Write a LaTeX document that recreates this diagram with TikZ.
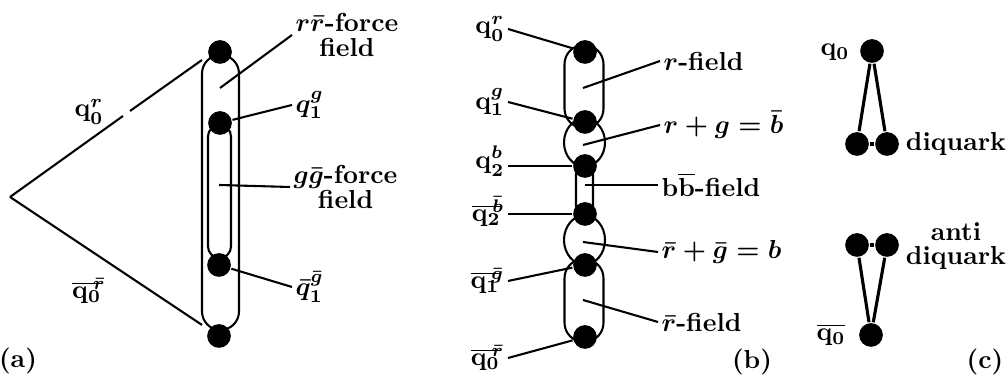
\documentclass[tikz,border=0pt]{standalone}
\newcommand{\qb}[2]{\overline{\mathbf{q}_{#1}}\mkern-5mu{}^{#2}}
\begin{document}
\begin{tikzpicture}[x=1.35cm, y=1.35cm, thick,
    dot/.style={circle, fill=black, inner sep=0pt, minimum size=3.2mm},
    lbl/.style={font=\fontsize{10}{9.5}\selectfont\bfseries\boldmath, inner sep=1pt, align=center}]
    \useasboundingbox (0,0) rectangle (10.08,3.82);
    % Panel (a)
    \begin{scope}
        % Force field tubes
        \draw[rounded corners=2.5mm] (2.02,0.52) rectangle (2.39,3.27);
        \draw[rounded corners=1.55mm] (2.08,1.24) rectangle (2.31,2.57);
        % Quarks
        \node[dot] (ta) at (2.20,3.30) {};
        \node[dot] (qa1) at (2.20,2.59) {};
        \node[dot] (qa1b) at (2.19,1.17) {};
        \node[dot] (ba) at (2.19,0.46) {};
        % Strings from the vertex
        \coordinate (apex) at (0.10,1.85);
        \coordinate (cut1) at (1.23,2.66);
        \coordinate (cut2) at (1.30,2.71);
        \coordinate (ctop) at (2.02,3.22);
        \coordinate (cbot) at (2.02,0.57);
        \draw (apex) -- (cut1);
        \draw (cut2) -- (ctop);
        \draw (apex) -- (cbot);
        % Labels
        \node[lbl] (lqa0) at (0.89,2.70) {$\mathbf{q}_0^r$};
        \node[lbl] (lqa0b) at (0.89,0.91) {$\qb{0}{\bar r}$};
        \node[lbl, anchor=west] (rrl) at (2.92,3.47) {$r\bar r$-force\\field};
        \node[lbl, anchor=west] (laq1) at (2.92,2.77) {$q_1^g$};
        \node[lbl, anchor=west] (ggl) at (2.90,1.95) {$g\bar g$-force\\field};
        \node[lbl, anchor=west] (laq1b) at (2.92,0.95) {$\bar q_1^{\bar g}$};
        \coordinate (rrf) at (2.20,2.94);
        \coordinate (ggf) at (2.19,1.97);
        \draw (rrf) -- (rrl.west);
        \draw (qa1) -- (laq1.west);
        \draw (ggf) -- (ggl.west);
        \draw (qa1b) -- (laq1b.west);
        \node[lbl] (la) at (0.18,0.21) {(a)};
    \end{scope}
    % Panel (b)
    \begin{scope}
        % Force field tubes
        \draw[rounded corners=2.6mm] (5.645,2.54) rectangle (6.035,3.37);
        \draw (5.845,2.395) ellipse [x radius=0.205, y radius=0.24];
        \draw[rounded corners=1.1mm] (5.76,1.68) rectangle (5.93,2.16);
        \draw (5.845,1.42) ellipse [x radius=0.205, y radius=0.245];
        \draw[rounded corners=2.6mm] (5.645,0.40) rectangle (6.035,1.23);
        % Quarks
        \node[dot] (tb) at (5.85,3.30) {};
        \node[dot] (qb1) at (5.85,2.60) {};
        \node[dot] (qb2) at (5.85,2.16) {};
        \node[dot] (qb2b) at (5.85,1.68) {};
        \node[dot] (qb1b) at (5.85,1.17) {};
        \node[dot] (bb) at (5.85,0.45) {};
        % Labels on the left
        \node[lbl, anchor=east] (lq0) at (5.08,3.53) {$\mathbf{q}_0^r$};
        \node[lbl, anchor=east] (lq1) at (5.08,2.80) {$\mathbf{q}_1^g$};
        \node[lbl, anchor=east] (lq2) at (5.08,2.21) {$\mathbf{q}_2^b$};
        \node[lbl, anchor=east] (lq2b) at (5.08,1.70) {$\qb{2}{\bar b}$};
        \node[lbl, anchor=east] (lq1b) at (5.08,1.01) {$\qb{1}{\bar g}$};
        \node[lbl, anchor=east] (lq0b) at (5.08,0.24) {$\qb{0}{\bar r}$};
        \draw (lq0.east) -- (tb);
        \draw (lq1.east) -- (qb1);
        \draw (lq2.east |- qb2) -- (qb2);
        \draw (lq2b.east |- qb2b) -- (qb2b);
        \draw (lq1b.east) -- (qb1b);
        \draw (lq0b.east) -- (bb);
        % Labels on the right
        \node[lbl, anchor=west] (rfl) at (6.60,3.21) {$r$-field};
        \node[lbl, anchor=west] (rgl) at (6.60,2.57) {$r+g=\bar b$};
        \node[lbl, anchor=west] (bbl) at (6.58,1.97) {b$\overline{\mbox{b}}$-field};
        \node[lbl, anchor=west] (rgbl) at (6.58,1.30) {$\bar r+\bar g=b$};
        \node[lbl, anchor=west] (rbfl) at (6.58,0.60) {$\bar r$-field};
        \coordinate (rff) at (5.83,2.94);
        \coordinate (rgf) at (5.83,2.37);
        \coordinate (bbf) at (5.85,1.97);
        \coordinate (rgbf) at (5.83,1.40);
        \coordinate (rbff) at (5.83,0.82);
        \draw (rff) -- (rfl.west);
        \draw (rgf) -- (rgl.west);
        \draw (bbf) -- (bbl.west);
        \draw (rgbf) -- (rgbl.west);
        \draw (rbff) -- (rbfl.west);
        \node[lbl] (lb) at (7.52,0.20) {(b)};
    \end{scope}
    % Panel (c)
    \begin{scope}
        % Diquark
        \node[dot] (qc0) at (8.72,3.31) {};
        \node[dot] (dl) at (8.57,2.38) {};
        \node[dot] (dr) at (8.87,2.38) {};
        \draw[very thick] (qc0) -- (dl);
        \draw[very thick] (qc0) -- (dr);
        \draw[very thick] (dl) -- (dr);
        % Anti diquark
        \node[dot] (adl) at (8.57,1.37) {};
        \node[dot] (adr) at (8.87,1.37) {};
        \node[dot] (qc0b) at (8.71,0.47) {};
        \draw[very thick] (qc0b) -- (adl);
        \draw[very thick] (qc0b) -- (adr);
        \draw[very thick] (adl) -- (adr);
        % Labels
        \node[lbl] (lqc0) at (8.35,3.30) {$\mathbf{q}_0$};
        \node[lbl] (lqc0b) at (8.31,0.47) {$\overline{\mathbf{q}_0}$};
        \node[lbl] (ldq) at (9.56,2.38) {diquark};
        \node[lbl] (ladq) at (9.56,1.36) {anti\\diquark};
        \node[lbl] (lc) at (9.85,0.20) {(c)};
    \end{scope}
\end{tikzpicture}
\end{document}
